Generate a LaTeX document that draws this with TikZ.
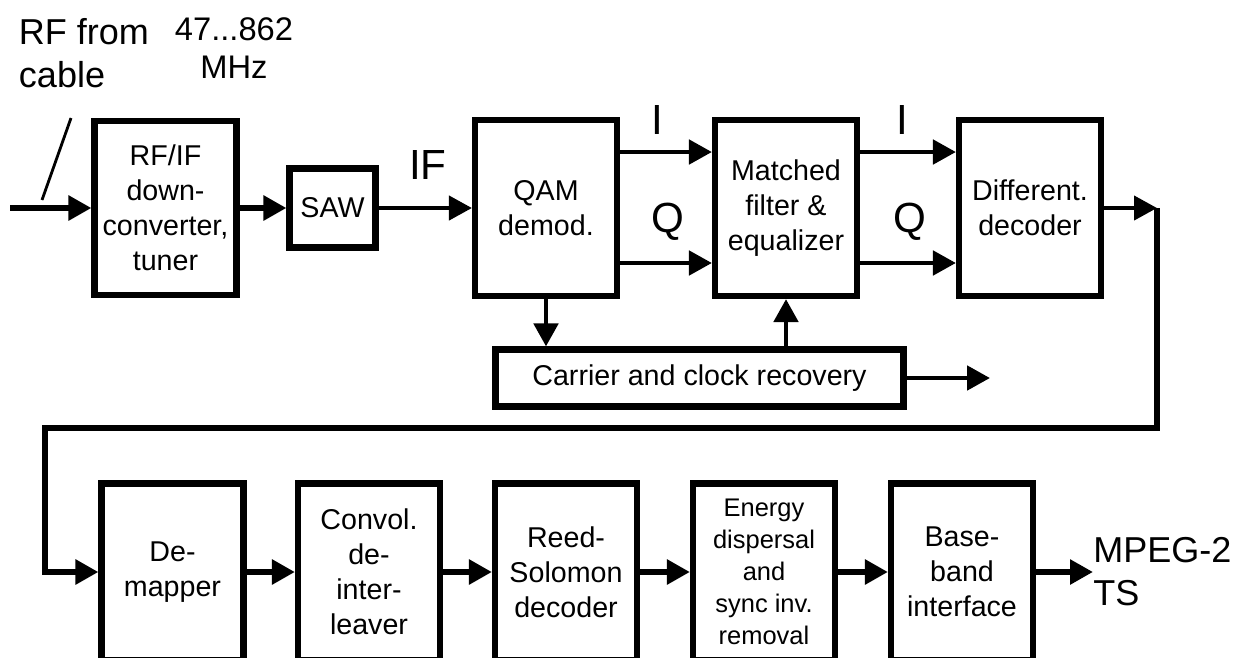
\documentclass[tikz,border=0pt]{standalone}
\usepackage{fontspec}
\setmainfont{Liberation Sans}
\usetikzlibrary{arrows.meta}

\begin{document}
\begin{tikzpicture}[x=0.02cm,y=-0.02cm,>={Triangle[length=0.46cm,width=0.48cm]},
  blk/.style={draw,line width=3.5pt,minimum width=2.84cm,minimum height=3.52cm,
    inner sep=0pt,align=center,font=\fontsize{16.3}{20}\selectfont},
  conn/.style={line width=2.8pt},
  thick conn/.style={line width=3.6pt},
  lbl/.style={inner sep=0pt,align=center}]
  \useasboundingbox (0,0) rectangle (1237,657);
  \clip (0,0) rectangle (1237,657);
  % top row
  \node[blk,minimum height=3.48cm] (tuner) at (165.5,208) {RF/IF\\down-\\converter,\\tuner};
  \node[blk,minimum width=1.72cm,minimum height=1.58cm] (saw) at (332.5,208) {SAW};
  \node[blk] (qam) at (546,208) {QAM\\demod.};
  \node[blk] (mf)  at (786,208) {Matched\\filter \&\\equalizer};
  \node[blk] (dd)  at (1030,208) {Different.\\decoder};
  \node[blk,minimum width=8.16cm,minimum height=1.14cm] (ccr) at (699.5,378) {Carrier and clock recovery};
  % labels
  \node[lbl,align=left,font=\fontsize{20.5}{24.5}\selectfont] (rf) at (84,53) {RF from\\cable};
  \node[lbl,font=\fontsize{18.6}{21.7}\selectfont] (mhz) at (234,48) {47...862\\MHz};
  \node[lbl,font=\fontsize{24}{28}\selectfont] (if) at (428,165) {IF};
  \node[lbl,font=\fontsize{24}{28}\selectfont] (i1) at (657,120) {I};
  \node[lbl,font=\fontsize{24}{28}\selectfont] (q1) at (668,222) {Q};
  \node[lbl,font=\fontsize{24}{28}\selectfont] (i2) at (902,120) {I};
  \node[lbl,font=\fontsize{24}{28}\selectfont] (q2) at (910,222) {Q};
  % bottom row
  \node[blk,minimum height=3.54cm] (dm) at (172.5,572) {De-\\mapper};
  \node[blk,minimum height=3.54cm] (cdi) at (369,572) {Convol.\\de-\\inter-\\leaver};
  \node[blk,minimum height=3.54cm] (rs) at (566,572) {Reed-\\Solomon\\decoder};
  \node[blk,minimum height=3.54cm,font=\fontsize{14.5}{18.2}\selectfont] (ed) at (764,572)
    {Energy\\dispersal\\and\\sync inv.\\removal};
  \node[blk,minimum height=3.54cm] (bb) at (962,572) {Base-\\band\\interface};
  \node[lbl,anchor=west,align=left,font=\fontsize{20.5}{24.5}\selectfont] (ts) at (1093,572) {MPEG-2\\TS};
  % free ends
  \coordinate (rfin) at (10,208);
  \coordinate (sl1) at (42,200);
  \coordinate (sl2) at (71,118);
  \coordinate (ccrout) at (990,378);
  \coordinate (fb1) at (1157,208);
  \coordinate (fb2) at (1157,428);
  \coordinate (fb3) at (45,428);
  \coordinate (fb4) at (45,572);
  % connectors
  \draw[thick conn,->] (rfin) -- (tuner);
  \draw[line width=1.6pt] (sl1) -- (sl2);
  \draw[thick conn,->] (tuner) -- (saw);
  \draw[line width=2.4pt,->] (saw) -- (qam);
  \draw[conn,->] ([yshift=1.12cm]qam.east) -- ([yshift=1.12cm]mf.west);
  \draw[conn,->] ([yshift=-1.1cm]qam.east) -- ([yshift=-1.1cm]mf.west);
  \draw[conn,->] ([yshift=1.12cm]mf.east) -- ([yshift=1.12cm]dd.west);
  \draw[conn,->] ([yshift=-1.1cm]mf.east) -- ([yshift=-1.1cm]dd.west);
  \draw[conn,->] (qam.south) -- (qam.south |- ccr.north);
  \draw[conn,->] (mf.south |- ccr.north) -- (mf.south);
  \draw[conn,->] (ccr.east) -- (ccrout);
  \draw[line width=2.4pt,->] (dd.east) -- (fb1);
  \draw[thick conn,->] (fb1) -- (fb2) -- (fb3) -- (fb4) -- (dm);
  \draw[thick conn,->] (dm) -- (cdi);
  \draw[thick conn,->] (cdi) -- (rs);
  \draw[thick conn,->] (rs) -- (ed);
  \draw[thick conn,->] (ed) -- (bb);
  \draw[thick conn,->] (bb) -- (ts);
\end{tikzpicture}
\end{document}
